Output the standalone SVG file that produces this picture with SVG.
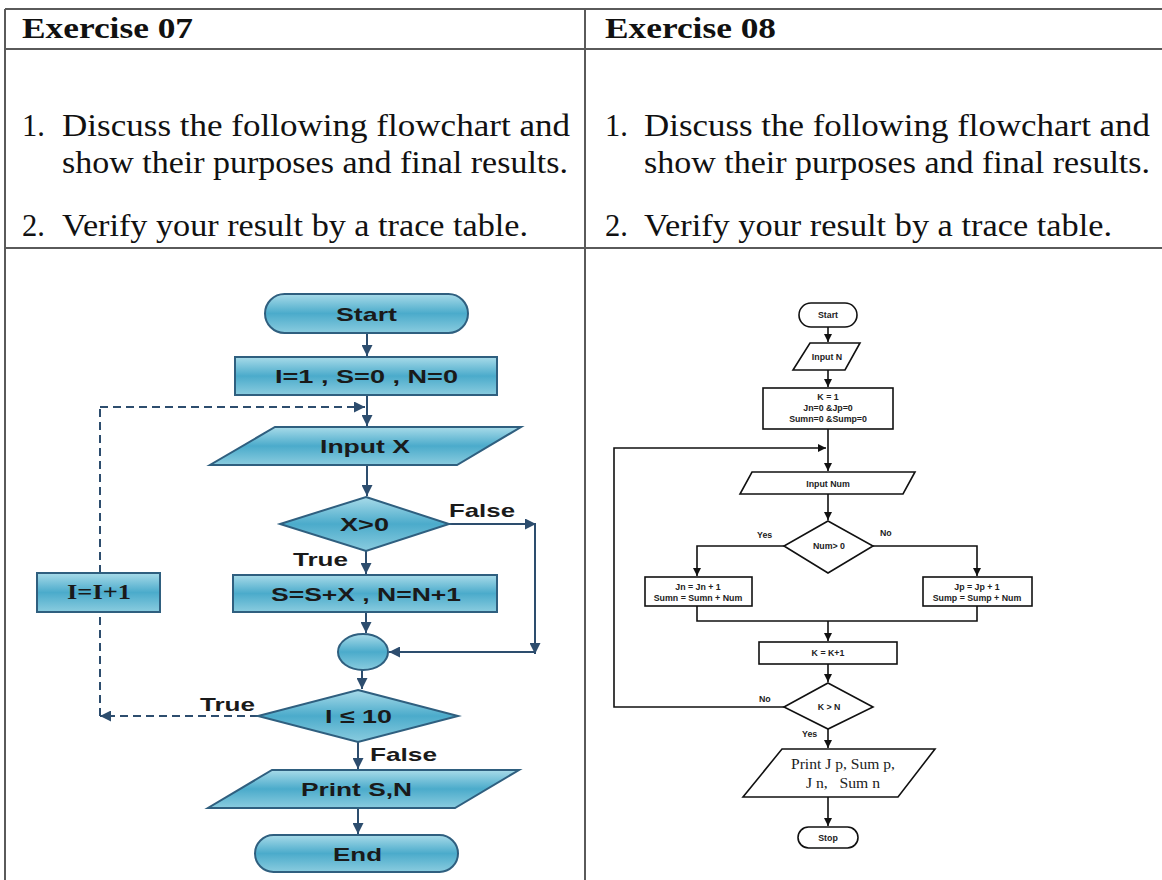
<svg xmlns="http://www.w3.org/2000/svg" width="1162" height="880" viewBox="0 0 1162 880">
<defs>
<linearGradient id="tealGrad" x1="0" y1="0" x2="0" y2="1">
<stop offset="0" stop-color="#a8dbe9"/>
<stop offset="0.5" stop-color="#4babcb"/>
<stop offset="1" stop-color="#8accdf"/>
</linearGradient>
<marker id="arrL" viewBox="0 0 10 10" refX="10" refY="5" markerWidth="11" markerHeight="11" markerUnits="userSpaceOnUse" orient="auto">
<path d="M0,0 L10,5 L0,10 Z" fill="#2d4d6e"/>
</marker>
<marker id="arrR" viewBox="0 0 10 10" refX="10" refY="5" markerWidth="8" markerHeight="8" markerUnits="userSpaceOnUse" orient="auto">
<path d="M0,0 L10,5 L0,10 Z" fill="#111"/>
</marker>
</defs>
<style>
.tbl{stroke:#5a5a5a;stroke-width:2;fill:none}
.hdr{font-family:"Liberation Serif",serif;font-weight:bold;font-size:30px;fill:#111}
.body{font-family:"Liberation Serif",serif;font-size:30.5px;fill:#111}
.ln{fill:url(#tealGrad);stroke:#2f5f7f;stroke-width:2}
.lt{font-family:"Liberation Sans",Arial,sans-serif;font-weight:bold;font-size:19px;fill:#1a1a1a}
.lts{font-family:"Liberation Serif",serif;font-weight:bold;font-size:20px;fill:#1a1a1a}
.lab{font-family:"Liberation Sans",Arial,sans-serif;font-weight:bold;font-size:19px;fill:#1a1a1a}
.lc{stroke:#2d4d6e;stroke-width:2;fill:none}
.ld{stroke:#2d4d6e;stroke-width:2;fill:none;stroke-dasharray:8 5}
.rn{fill:#fff;stroke:#111;stroke-width:1.6}
.rt{font-family:"Liberation Sans",Arial,sans-serif;font-weight:bold;font-size:8.8px;fill:#222;text-anchor:middle}
.rl{font-family:"Liberation Sans",Arial,sans-serif;font-weight:bold;font-size:8.8px;fill:#222}
.rp{font-family:"Liberation Serif",serif;font-size:15px;fill:#222;white-space:pre}
.rc{stroke:#111;stroke-width:1.6;fill:none}
</style>
<g id="table">
<path class="tbl" d="M5,9 H1162 M5,49 H1162 M5,248 H1162 M5,9 V880 M585,9 V880"/>
<text class="hdr" x="22" y="38" textLength="171" lengthAdjust="spacingAndGlyphs">Exercise 07</text>
<text class="hdr" x="605" y="38" textLength="171" lengthAdjust="spacingAndGlyphs">Exercise 08</text>
<text class="body" x="22" y="136">1.</text>
<text class="body" x="62" y="136" textLength="508" lengthAdjust="spacingAndGlyphs">Discuss the following flowchart and</text>
<text class="body" x="62" y="173" textLength="506" lengthAdjust="spacingAndGlyphs">show their purposes and final results.</text>
<text class="body" x="22" y="236">2.</text>
<text class="body" x="62" y="236" textLength="466" lengthAdjust="spacingAndGlyphs">Verify your result by a trace table.</text>
<text class="body" x="605" y="136">1.</text>
<text class="body" x="644" y="136" textLength="506" lengthAdjust="spacingAndGlyphs">Discuss the following flowchart and</text>
<text class="body" x="644" y="173" textLength="506" lengthAdjust="spacingAndGlyphs">show their purposes and final results.</text>
<text class="body" x="605" y="236">2.</text>
<text class="body" x="644" y="236" textLength="468" lengthAdjust="spacingAndGlyphs">Verify your result by a trace table.</text>
</g>
<g id="connectors-left">
<path class="lc" d="M367,333 V356" marker-end="url(#arrL)"/>
<path class="lc" d="M367,395 V426" marker-end="url(#arrL)"/>
<path class="ld" d="M100,407 H365" marker-end="url(#arrL)"/>
<path class="lc" d="M367,465 V496" marker-end="url(#arrL)"/>
<path class="lc" d="M449,524 H536" marker-end="url(#arrL)"/>
<path class="lc" d="M535,524 V654" marker-end="url(#arrL)"/>
<path class="lc" d="M535,652 H389" marker-end="url(#arrL)"/>
<path class="lc" d="M366,551 V574" marker-end="url(#arrL)"/>
<path class="lc" d="M366,613 V633" marker-end="url(#arrL)"/>
<path class="lc" d="M362,670 V689" marker-end="url(#arrL)"/>
<path class="ld" d="M258,716 H100" marker-end="url(#arrL)"/>
<path class="ld" d="M100,716 V612 M100,573 V407"/>
<path class="lc" d="M358,742 V769" marker-end="url(#arrL)"/>
<path class="lc" d="M358,808 V834" marker-end="url(#arrL)"/>
</g>
<g id="node-start-l"><rect class="ln" x="265" y="294" width="203" height="39" rx="19.5"/><text class="lt" x="336" y="321" textLength="61" lengthAdjust="spacingAndGlyphs">Start</text></g>
<g id="node-init-l"><rect class="ln" x="235" y="357" width="262" height="38"/><text class="lt" x="275" y="383" textLength="183" lengthAdjust="spacingAndGlyphs">I=1 , S=0 , N=0</text></g>
<g id="node-input-l"><polygon class="ln" points="275,427 521,427 457,465 210,465"/><text class="lt" x="320" y="453" textLength="90" lengthAdjust="spacingAndGlyphs">Input X</text></g>
<g id="node-dec1-l"><polygon class="ln" points="366,497 449,524 366,551 280,524"/><text class="lt" x="340" y="531" textLength="49" lengthAdjust="spacingAndGlyphs">X&gt;0</text></g>
<text class="lab" x="449" y="517" textLength="66" lengthAdjust="spacingAndGlyphs">False</text>
<text class="lab" x="293" y="566" textLength="55" lengthAdjust="spacingAndGlyphs">True</text>
<g id="node-proc-l"><rect class="ln" x="233" y="575" width="264" height="37"/><text class="lt" x="271" y="601" textLength="190" lengthAdjust="spacingAndGlyphs">S=S+X , N=N+1</text></g>
<g id="node-inc-l"><rect class="ln" x="37" y="573" width="123" height="39"/><text class="lts" x="67" y="599" textLength="64" lengthAdjust="spacingAndGlyphs">I=I+1</text></g>
<g id="node-join-l"><ellipse class="ln" cx="363" cy="652" rx="25" ry="18"/></g>
<g id="node-dec2-l"><polygon class="ln" points="358,690 458,716 358,742 258,716"/><text class="lt" x="325" y="723" textLength="67" lengthAdjust="spacingAndGlyphs">I ≤ 10</text></g>
<text class="lab" x="200" y="711" textLength="55" lengthAdjust="spacingAndGlyphs">True</text>
<text class="lab" x="370" y="761" textLength="67" lengthAdjust="spacingAndGlyphs">False</text>
<g id="node-print-l"><polygon class="ln" points="272,770 519,770 455,808 208,808"/><text class="lt" x="301" y="796" textLength="111" lengthAdjust="spacingAndGlyphs">Print S,N</text></g>
<g id="node-end-l"><rect class="ln" x="255" y="835" width="203" height="37" rx="18.5"/><text class="lt" x="333" y="861" textLength="49" lengthAdjust="spacingAndGlyphs">End</text></g>
<g id="connectors-right">
<path class="rc" d="M828,327 V342" marker-end="url(#arrR)"/>
<path class="rc" d="M828,370 V387" marker-end="url(#arrR)"/>
<path class="rc" d="M828,429 V471" marker-end="url(#arrR)"/>
<path class="rc" d="M784,707 H614 V448 H826" marker-end="url(#arrR)"/>
<path class="rc" d="M828,494 V520" marker-end="url(#arrR)"/>
<path class="rc" d="M784,546 H697 V576" marker-end="url(#arrR)"/>
<path class="rc" d="M873,546 H977 V576" marker-end="url(#arrR)"/>
<path class="rc" d="M697,606 V621 H977 V606"/>
<path class="rc" d="M828,621 V641" marker-end="url(#arrR)"/>
<path class="rc" d="M828,664 V682" marker-end="url(#arrR)"/>
<path class="rc" d="M828,729 V748" marker-end="url(#arrR)"/>
<path class="rc" d="M828,797 V826" marker-end="url(#arrR)"/>
</g>
<g id="node-start-r"><rect class="rn" x="799" y="303" width="58" height="24" rx="12"/><text class="rt" x="828" y="318">Start</text></g>
<g id="node-inputn-r"><polygon class="rn" points="810,343 860,343 845,370 793,370"/><text class="rt" x="827" y="360">Input N</text></g>
<g id="node-init-r"><rect class="rn" x="763" y="388" width="130" height="41"/><text class="rt" x="828" y="400">K = 1</text><text class="rt" x="828" y="411">Jn=0 &amp;Jp=0</text><text class="rt" x="828" y="422">Sumn=0 &amp;Sump=0</text></g>
<g id="node-inputnum-r"><polygon class="rn" points="752,472 915,472 903,494 740,494"/><text class="rt" x="828" y="487">Input Num</text></g>
<g id="node-dec1-r"><polygon class="rn" points="828,521 873,546 828,573 784,546"/><text class="rt" x="829" y="549">Num&gt; 0</text></g>
<text class="rl" x="757" y="538">Yes</text>
<text class="rl" x="880" y="536">No</text>
<g id="node-neg-r"><rect class="rn" x="645" y="577" width="107" height="29"/><text class="rt" x="698" y="590">Jn = Jn + 1</text><text class="rt" x="698" y="601">Sumn = Sumn + Num</text></g>
<g id="node-pos-r"><rect class="rn" x="923" y="577" width="109" height="29"/><text class="rt" x="977" y="590">Jp = Jp + 1</text><text class="rt" x="977" y="601">Sump = Sump + Num</text></g>
<g id="node-inc-r"><rect class="rn" x="759" y="642" width="138" height="22"/><text class="rt" x="828" y="656">K = K+1</text></g>
<g id="node-dec2-r"><polygon class="rn" points="828,683 873,707 828,729 784,707"/><text class="rt" x="829" y="710">K &gt; N</text></g>
<text class="rl" x="759" y="702">No</text>
<text class="rl" x="802" y="737">Yes</text>
<g id="node-print-r"><polygon class="rn" points="782,749 935,749 898,797 743,797"/><text class="rp" x="791" y="769" textLength="104" lengthAdjust="spacingAndGlyphs">Print J p, Sum p,</text><text class="rp" x="806" y="788" textLength="74" lengthAdjust="spacingAndGlyphs">J n,   Sum n</text></g>
<g id="node-stop-r"><rect class="rn" x="798" y="827" width="60" height="21" rx="10.5"/><text class="rt" x="828" y="841">Stop</text></g>
</svg>
